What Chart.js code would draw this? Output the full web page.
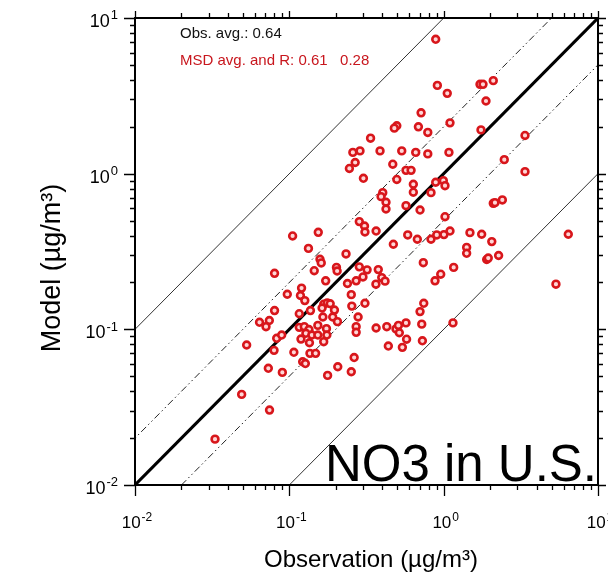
<!DOCTYPE html>
<html><head><meta charset="utf-8">
<script src="https://cdn.jsdelivr.net/npm/chart.js@4"></script>
<style>html,body{margin:0;padding:0;background:#fff;overflow:hidden}canvas{display:block}</style>
</head><body>
<canvas id="c" width="608" height="579"></canvas>
<script>
// Observation (x) and Model (y) values, µg/m3
const obsValues = [
0.888,0.910,1.055,1.719,1.798,2.096,1.880,0.714,0.497,0.479,0.686,0.789,1.099,1.745,3.365,0.336,0.387,0.535,0.659,0.789,
1.082,2.47,0.468,0.570,0.615,3.365,0.497,0.888,0.995,1.02,0.636,0.636,0.828,0.403,0.393,0.423,0.423,0.570,0.703,1.02,
2.096,2.15,2.40,0.365,0.585,0.675,0.828,0.902,1.004,1.099,1.480,1.763,2.05,1.409,1.409,1.900,1.945,2.27,6.42,0.472,
0.738,1.161,0.377,0.397,0.417,0.364,0.957,0.879,5.34,0.743,0.703,0.365,0.428,0.491,0.509,0.516,0.570,0.721,1.149,0.575,
0.728,0.438,0.540,0.258,0.287,0.267,0.245,0.302,0.284,0.307,0.309,0.105,0.154,0.133,0.233,0.158,0.161,0.202,0.204,0.145,
0.284,0.319,0.300,0.0802,0.172,0.238,0.271,0.120,0.118,0.126,0.0970,0.252,0.254,0.167,0.176,0.184,0.163,0.196,0.191,0.205,
0.0802,0.116,0.137,0.165,0.279,0.0641,0.0742,0.0706,0.153,0.174,0.116,0.125,0.134,0.271,0.271,0.309,0.119,0.135,0.128,0.140,
0.153,0.175,0.167,0.0828,0.0892,0.0796,0.0529,0.107,0.136,0.148,0.122,0.127,0.0731,0.0901,0.177,0.206,0.252,0.263,0.0491,0.0744,
0.0330];
const modelValues = [
7.30,3.69,3.28,3.75,3.75,3.96,2.93,2.46,2.03,1.96,2.00,1.84,2.12,1.91,1.76,1.69,1.40,1.40,1.37,1.34,
1.37,1.23,1.15,1.05,1.05,1.03,0.918,0.881,0.902,0.837,0.855,0.760,0.755,0.755,0.712,0.655,0.593,0.623,0.584,0.529,
0.645,0.651,0.678,0.428,0.404,0.379,0.379,0.404,0.406,0.428,0.418,0.408,0.366,0.336,0.308,0.281,0.287,0.298,0.408,0.352,
0.268,0.250,0.242,0.215,0.204,0.195,0.226,0.205,0.195,0.147,0.130,0.102,0.104,0.1006,0.106,0.0951,0.110,0.108,0.110,0.0864,
0.0844,0.0781,0.0766,1.37,1.40,1.18,1.08,0.934,0.492,0.461,0.422,0.398,0.420,0.331,0.305,0.282,0.267,0.250,0.237,0.238,
0.252,0.241,0.217,0.229,0.205,0.197,0.205,0.184,0.165,0.153,0.168,0.167,0.141,0.145,0.148,0.146,0.137,0.133,0.120,0.112,
0.132,0.126,0.132,0.120,0.120,0.111,0.114,0.104,0.106,0.101,0.103,0.104,0.0997,0.104,0.0957,0.147,0.0866,0.0820,0.0943,0.0919,
0.0919,0.0919,0.0833,0.0876,0.0919,0.0733,0.0793,0.0712,0.0701,0.0701,0.0619,0.0603,0.0562,0.0529,0.0506,0.0575,0.0534,0.0659,0.0382,0.0303,
0.0197];
// reference lines: model = ratio * observation
const refRatios = [1, 2, 0.5, 10, 0.1];
const axisMin = 0.01, axisMax = 10;
const tickValues = [0.01, 0.1, 1, 10];
const tickBase = ['10','10','10','10'];
const tickExp = ['-2','-1','0','1'];
const xTitle = 'Observation (\u00b5g/m\u00b3)';
const yTitle = 'Model (\u00b5g/m\u00b3)';
const obsAvgText = 'Obs. avg.: 0.64';
const msdText = 'MSD avg. and R: 0.61   0.28';
const panelTitle = 'NO3 in U.S.';

const FONT = '"Liberation Sans", Arial, Helvetica, sans-serif';

const refStyles = {
  1:   {w:3,   dash:[],            c:'#000'},
  2:   {w:1,   dash:[7,3,1.5,3,1.5,3], c:'#222'},
  0.5: {w:1,   dash:[7,3,1.5,3,1.5,3], c:'#222'},
  10:  {w:1,   dash:[],            c:'#333'},
  0.1: {w:1,   dash:[],            c:'#333'}
};

const datasets = [{
  type:'scatter',
  data: obsValues.map((v,i)=>({x:v, y:modelValues[i]})),
  pointStyle:'circle',
  pointRadius:3.4,
  borderWidth:2.6,
  borderColor:'#d8161b',
  backgroundColor:'#ffd6d6',
  order:0
}];
refRatios.forEach(r=>{
  const s = refStyles[r];
  datasets.push({
    type:'line',
    data:[{x:axisMin/10, y:axisMin/10*r},{x:axisMax*10, y:axisMax*10*r}],
    borderColor:s.c, borderWidth:s.w, borderDash:s.dash,
    pointRadius:0, fill:false, tension:0, order:1
  });
});

function drawSup(ctx, base, exp, x, y, align, baseSize, expSize){
  ctx.font = baseSize+'px '+FONT;
  const bw = ctx.measureText(base).width;
  ctx.font = expSize+'px '+FONT;
  const ew = ctx.measureText(exp).width;
  const tw = bw + ew + 1;
  let x0 = align==='right' ? x - tw : (align==='center' ? x - tw/2 : x);
  ctx.textAlign='left'; ctx.textBaseline='alphabetic';
  ctx.font = baseSize+'px '+FONT;
  ctx.fillText(base, x0, y);
  ctx.font = expSize+'px '+FONT;
  ctx.fillText(exp, x0 + bw + 1, y - baseSize*0.42);
}

const decor = {
  id:'decor',
  afterDatasetsDraw(chart){
    const ctx = chart.ctx, a = chart.chartArea;
    const xs = chart.scales.x, ys = chart.scales.y;
    ctx.save();
    ctx.strokeStyle='#000'; ctx.lineWidth=2;
    ctx.strokeRect(a.left, a.top, a.right-a.left, a.bottom-a.top);
    ctx.lineWidth=1.3;
    ctx.beginPath();
    for (let k=0;k<tickValues.length;k++){
      const d = tickValues[k];
      const mults = k<tickValues.length-1 ? [1,2,3,4,5,6,7,8,9] : [1];
      mults.forEach(m=>{
        const v = d*m, major = m===1;
        const px = Math.round(xs.getPixelForValue(v))+0.5;
        const py = Math.round(ys.getPixelForValue(v))+0.5;
        ctx.moveTo(px, a.bottom); ctx.lineTo(px, a.bottom + (major?11:5));
        ctx.moveTo(px, a.top); ctx.lineTo(px, a.top - (major?7:5));
        ctx.moveTo(a.left, py); ctx.lineTo(a.left - (major?11:5), py);
        ctx.moveTo(a.right, py); ctx.lineTo(a.right + (major?8:5), py);
      });
    }
    ctx.stroke();
    ctx.restore();
  },
  afterDraw(chart){
    const ctx = chart.ctx, a = chart.chartArea;
    const xs = chart.scales.x, ys = chart.scales.y;
    ctx.save();
    ctx.fillStyle='#000';
    tickValues.forEach((v,i)=>{
      const px = xs.getPixelForValue(v);
      drawSup(ctx, tickBase[i], tickExp[i], px+2, 528, 'center', 17, 12);
      const py = ys.getPixelForValue(v);
      drawSup(ctx, tickBase[i], tickExp[i], 118, py+9, 'right', 18, 13);
    });
    ctx.font = '24px '+FONT;
    ctx.textAlign='center'; ctx.textBaseline='alphabetic';
    ctx.fillText(xTitle, 371, 567);
    ctx.save();
    ctx.translate(60, 268);
    ctx.rotate(-Math.PI/2);
    ctx.font = '27px '+FONT;
    ctx.fillText(yTitle, 0, 0);
    ctx.restore();
    ctx.textAlign='left';
    ctx.font = '15px '+FONT;
    ctx.fillStyle='#111';
    ctx.fillText(obsAvgText, 180, 38);
    ctx.fillStyle='#c8161d';
    ctx.fillText(msdText, 180, 65);
    ctx.fillStyle='#000';
    ctx.font = '51px '+FONT;
    ctx.textAlign='right';
    ctx.fillText(panelTitle, 597, 481);
    ctx.restore();
  }
};

new Chart(document.getElementById('c'), {
  type:'scatter',
  data:{datasets},
  options:{
    responsive:false, animation:false, events:[],
    layout:{padding:{left:0,right:10,top:18,bottom:0}},
    plugins:{legend:{display:false}, tooltip:{enabled:false}},
    scales:{
      x:{type:'logarithmic', position:'bottom', min:axisMin, max:axisMax,
         grid:{display:false}, border:{display:false}, ticks:{display:false},
         afterFit(s){ s.height = 94; }},
      y:{type:'logarithmic', position:'left', min:axisMin, max:axisMax,
         grid:{display:false}, border:{display:false}, ticks:{display:false},
         afterFit(s){ s.width = 135; }}
    }
  },
  plugins:[decor]
});
</script>
</body></html>
